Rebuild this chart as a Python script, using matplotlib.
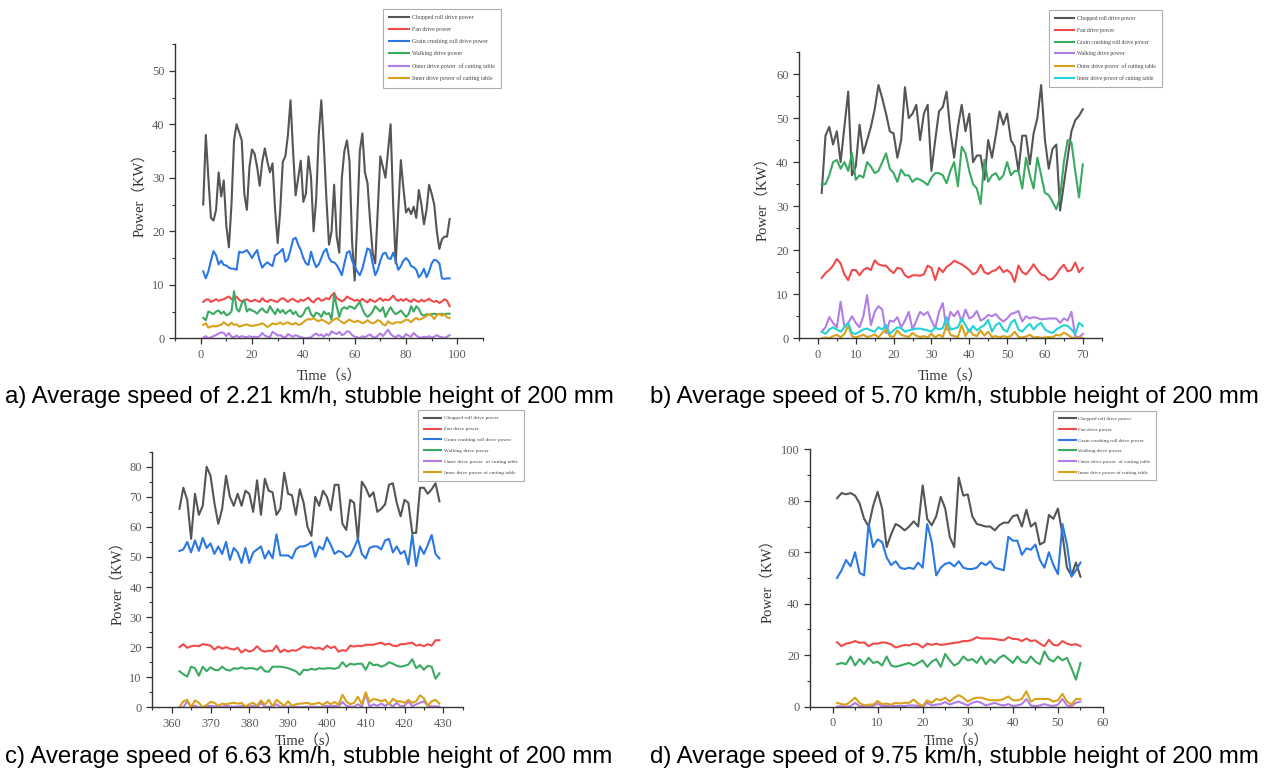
import matplotlib
matplotlib.use("Agg")
import matplotlib.pyplot as plt
from matplotlib.ticker import MultipleLocator

# ---------------- data ----------------
# a) 2.21 km/h
t_a = list(range(1, 98))
chop_a = [25, 38, 30, 22.5, 22, 24, 31, 26.5, 29.5, 21, 17, 25, 37, 40, 38.5, 37, 27, 24, 32, 35.3,
          34.5, 32, 28.5, 33, 35.5, 33, 31, 32.7, 24, 17.8, 24, 33, 34, 38, 44.5, 35, 26.7, 30, 33.2, 25.5,
          27, 34, 30, 20, 26, 38, 44.5, 36, 26, 17.5, 20, 28.7, 19, 16, 30, 35, 37, 33, 18, 10.8,
          22, 35, 38.3, 31, 29, 22, 16, 14, 24, 34, 32, 30, 35, 40, 25, 14, 24, 33.3, 28, 23.5,
          24.3, 23.2, 24.6, 22.5, 27.7, 25, 21.3, 24, 28.7, 27, 25, 20, 16.7, 18.5, 19, 19, 22.3]
fan_a = [6.8, 7.2, 7.3, 6.8, 7.0, 7.3, 7.0, 7.2, 7.3, 7.6, 7.8, 7.3, 7.5, 7.8, 7.2, 6.9, 7.1, 7.3, 7.0, 6.9,
         7.2, 7.0, 6.8, 7.5, 7.0, 6.8, 7.2, 7.1, 6.9, 6.8, 7.3, 7.5, 7.2, 6.8, 7.2, 7.4, 7.0, 6.8, 7.2, 7.0,
         7.3, 7.6, 7.0, 6.7, 7.3, 7.5, 7.0, 7.2, 7.5, 7.3, 8.0, 8.5, 7.5, 7.2, 6.9, 7.2, 7.8, 7.5, 7.3, 7.0,
         7.2, 6.9, 7.4, 7.0, 6.7, 7.3, 7.0, 6.8, 7.2, 7.5, 7.0, 7.3, 7.1, 7.4, 8.0, 7.3, 7.0, 7.3, 7.0, 7.4,
         7.0, 6.8, 7.3, 7.0, 6.8, 7.2, 6.9, 7.1, 7.4, 7.0, 6.8, 7.0, 6.6, 6.9, 7.3, 7.0, 6.0]
grain_a = [12.5, 11.2, 12.5, 14.5, 16.3, 15.5, 13.8, 14.5, 13.7, 13.6, 13.2, 13, 13, 12.8, 16.2, 16, 16.2, 16.5, 15.8, 15,
           15.8, 16.5, 14.5, 13.2, 13.8, 14.2, 13.8, 13.5, 15.5, 15.8, 16.2, 16.7, 14.3, 14.8, 16.5, 18.5, 18.8, 17.5, 16.5, 15,
           14, 13.7, 16.2, 14.5, 13.3, 13.8, 15, 16.2, 16.7, 15, 14.3, 14.2, 13.7, 12.8, 11.8, 14, 16, 16.3, 14.5, 13.5,
           12.5, 11.8, 13, 15, 16.8, 16.5, 14, 11.8, 12.8, 14.5, 15.8, 16, 15, 14.8, 16, 14.5, 12.8, 13.5, 14.5, 15,
           14.5, 13.5, 13.3, 12.8, 11.4, 12, 13, 11.4, 12.5, 14, 14.7, 14.5, 14, 11.2, 11.1, 11.2, 11.2]
walk_a = [3.8, 3.4, 5.0, 4.8, 4.5, 5.0, 5.2, 4.6, 5.0, 4.3, 4.5, 5.0, 8.8, 5.5, 5.0, 6.5, 7.2, 5.0, 5.5, 5.2,
          5.0, 4.6, 5.2, 5.6, 5.0, 4.8, 6.0, 5.2, 4.5, 5.5, 4.8, 5.3, 4.6, 5.0, 5.3, 4.5, 5.0, 4.2, 4.0, 4.5,
          5.5, 5.8, 4.5, 4.0, 4.8, 4.6, 4.0, 5.0, 4.5, 4.7, 3.5, 8.2, 6.0, 4.0, 5.5, 5.8, 5.5, 6.0, 5.8, 5.5,
          6.2, 6.8, 5.5, 4.5, 4.0, 4.4, 5.0, 6.0, 5.5, 5.0, 5.8, 4.0, 5.0, 5.8, 5.0, 4.5, 4.8, 5.2, 4.6, 4.0,
          4.5, 6.0, 5.0, 6.0, 5.5, 4.5, 4.2, 4.5, 4.4, 4.5, 4.6, 4.5, 4.5, 4.6, 4.5, 4.6, 4.6]
outer_a = [0.1, 0.4, 0, 0.2, 0.4, 0.6, 0.9, 1.1, 1.0, 0.4, 1.0, 0.3, 0.2, 0.5, 0.2, 0.4, 0.3, 0.2, 0.4, 0.2,
           0.3, 0.2, 0.4, 1.0, 0.5, 0.3, 0.2, 1.2, 0.9, 0.5, 0.6, 0.3, 0.1, 0.8, 0.5, 0.3, 0.6, 0.4, 0.2, 0.1,
           0.0, 0.1, 0.2, 0.6, 0.9, 0.5, 0.7, 0.3, 0.8, 0.5, 1.3, 1.0, 0.8, 1.2, 0.6, 0.8, 1.3, 1.2, 0.6, 0.3,
           0.2, 0.0, 0.4, 0.2, 0.5, 0.7, 0.3, 0.1, 0.5, 0.9, 0.4, 1.0, 1.6, 0.8, 0.4, 0.2, 0.6, 0.3, 0.1, 0.8,
           0.5, 0.3, 1.0, 0.5, 0.2, 0.1, 0.3, 0.2, 0.4, 0.1, 0.3, 0.6, 0.3, 0.2, 0.1, 0.3, 0.6]
inner_a = [2.5, 2.8, 2.0, 2.2, 2.3, 2.2, 2.4, 2.5, 3.0, 2.6, 2.4, 2.9, 2.5, 2.6, 2.2, 2.3, 2.5, 2.6, 2.4, 2.3,
           2.4, 2.5, 2.6, 2.8, 2.5, 2.1, 2.4, 2.8, 2.6, 2.7, 3.0, 2.6, 2.8, 3.0, 2.7, 2.6, 2.9, 2.5, 2.6, 3.0,
           3.4, 3.6, 3.5, 3.8, 3.4, 3.2, 3.5, 3.3, 3.0, 2.7, 3.2, 3.5, 3.8, 3.4, 3.0, 2.8, 3.2, 3.5, 3.2, 3.0,
           3.3, 3.1, 2.8, 3.0, 3.4, 3.0, 2.8, 3.0, 3.4, 3.2, 2.6, 2.4, 3.2, 2.8, 2.7, 3.0, 3.0, 2.9, 3.2, 3.5,
           3.4, 3.0, 3.5, 3.8, 3.5, 3.6, 3.9, 4.2, 4.5, 4.2, 3.6, 4.3, 4.6, 4.2, 4.5, 3.9, 3.8]

# b) 5.70 km/h
t_b = list(range(1, 71))
chop_b = [33, 46, 48, 44, 47, 40, 48, 56, 37, 39, 48.5, 42, 45, 48, 52, 57.5, 54.5, 51, 47, 46.5,
          41, 45, 57, 50, 51, 53, 45, 51, 53, 38, 45, 51.5, 52.5, 56, 47, 41, 48, 53, 47, 51,
          40, 41.5, 41.5, 36, 45, 41, 46, 51.5, 48.5, 51, 45, 43.5, 38, 46, 46, 39.5, 46.5, 50, 57.5, 45,
          38.5, 43, 44, 29, 35, 41, 47, 49.5, 50.5, 52]
fan_b = [13.7, 14.8, 15.5, 16.5, 18, 17, 14.5, 13.2, 15.5, 15.5, 14.3, 15.5, 16, 15.5, 17.7, 16.8, 16.5, 16.5, 15.5, 14.8,
         16, 15.8, 14.3, 13.8, 14.3, 14.3, 14.2, 14.5, 16.5, 16, 13.2, 16, 15, 16.2, 16.8, 17.6, 17.2, 16.8, 16.2, 15.5,
         14.5, 15, 16.7, 15, 14.6, 15.2, 15.5, 16.3, 15, 15.5, 14.8, 12.8, 16.5, 15, 14.5, 15.5, 16.8, 15.5, 14.5, 14.2,
         13.3, 13.5, 14.5, 15.8, 16.7, 15.2, 15.5, 17.2, 15, 16]
grain_b = [35, 35, 37, 40, 40.5, 38.5, 40, 38, 42, 36, 37, 36.5, 40, 39, 37.5, 38, 40, 42, 38.5, 37.5,
           35.5, 38.3, 37, 37, 35.5, 36.3, 36, 35.5, 34.8, 36.5, 37.5, 37.5, 37, 35.2, 38, 40, 34.5, 43.5, 42, 38,
           35, 34, 30.5, 40.5, 35.5, 37, 37.5, 36, 37, 40, 37, 38, 38, 34, 41, 37, 34, 41, 37, 33,
           32.5, 31, 29.3, 32, 40, 45, 44.5, 38, 32, 39.5]
walk_b = [1.5, 2.5, 4.8, 3.5, 2.5, 8.3, 2.5, 3.5, 5, 3.5, 2.5, 5, 9.8, 3, 6, 7.3, 6.5, 1.2, 4, 3.8,
          4.8, 2.5, 4, 6, 2, 4, 6, 5.3, 6, 4, 2.3, 6, 8, 2, 6, 5, 6.2, 3.8, 6.5, 4.5,
          5, 6.2, 4, 4.5, 5.3, 5, 5.5, 4.5, 3.8, 4.5, 5.5, 5.8, 6.2, 3.8, 5, 4.5, 4.8, 4.6, 4.3, 4.4,
          4.5, 4.5, 4.5, 3.5, 4.5, 4, 6, 0.5, 0.2, 1]
outer_b = [0, 0.2, 0, 0.5, 0.8, 0.2, 1.0, 2.8, 0.5, 0.2, 0.5, 0.8, 0.3, 0.5, 0.9, 0.2, 1.2, 2.0, 0.5, 0.3,
           1.8, 0.8, 0.5, 0.3, 1.2, 0.6, 0.3, 0.5, 0.2, 1.0, 0.2, 0.8, 0.3, 3.0, 0.8, 0.5, 0.3, 3.0, 0.5, 2.0,
           0.8, 0.5, 1.8, 0.6, 1.5, 0.3, 0.5, 0.2, 0.5, 0.3, 0.5, 1.5, 0.3, 0.2, 0.4, 0.8, 0.2, 0.3, 0.1, 0.2,
           0.3, 0.2, 0.8, 0.6, 1.3, 0.8, 0.2, 0, 0.2, 0]
inner_b = [1.5, 1.0, 2.0, 2.5, 2.0, 1.5, 2.5, 3.5, 1.2, 1.0, 1.5, 2.0, 2.2, 1.8, 1.5, 2.5, 2.0, 3.0, 1.0, 1.8,
           2.5, 2.3, 1.5, 1.8, 2.0, 2.2, 2.2, 2.0, 1.8, 1.5, 2.5, 2.0, 2.3, 4.8, 2.0, 2.2, 2.5, 4.5, 3.0, 1.5,
           2.8, 1.8, 2.5, 3.0, 4.2, 1.5, 3.0, 3.5, 2.0, 1.5, 3.5, 4.2, 2.0, 1.5, 2.5, 3.3, 2.0, 3.0, 3.5, 2.0,
           1.5, 1.2, 2.0, 2.5, 3.0, 2.8, 2.0, 1.0, 3.5, 2.8]

# c) 6.63 km/h
t_c = list(range(362, 430))
chop_c = [66, 73, 69, 56, 71, 64, 67, 80, 77, 68, 61, 66, 77, 70, 67, 71, 67, 72, 71, 65,
          75.5, 64, 76, 72, 71.5, 64, 66, 78, 71, 70.5, 64, 72.5, 68, 60, 57, 70, 67, 72, 70, 65.5,
          74, 74, 61, 59, 69, 68, 55.5, 75, 73, 70, 71.5, 65, 66, 67.5, 74, 74.5, 68, 63.5, 69, 68,
          58, 58, 73, 73, 71, 72.5, 74.5, 68.5]
fan_c = [20, 21, 19.8, 20.3, 20.5, 20.3, 21, 20.8, 20.5, 19.2, 20.2, 19.5, 20, 19.5, 19.2, 19.8, 18.2, 19.2, 18.5, 19,
         20.3, 19, 18.5, 18.8, 18.8, 20.5, 18.3, 19.2, 18.5, 19, 18.8, 19.5, 20.3, 19.8, 20, 19.5, 19.8, 19.2, 20.5, 19.7,
         20.2, 18.5, 19, 18.8, 20.5, 20.2, 20.5, 20.3, 20.8, 20.8, 20.8, 21.2, 21.5, 20.8, 21.2, 20.5, 20.3, 21, 21, 21.3,
         21.5, 20.5, 20.8, 20.3, 21, 20.5, 22.3, 22.3]
grain_c = [52, 52.5, 55, 51.5, 55.5, 52, 56.3, 53, 54.5, 51, 53.5, 51, 55, 49, 53, 51.5, 48, 53, 48, 51.5,
           52.5, 53.5, 49.5, 52, 49.5, 57.5, 50.5, 50.5, 50.5, 49.5, 52.5, 53.5, 53.5, 54, 55, 50, 53.5, 52.5, 56.5, 54,
           51, 52, 51.5, 50, 50.5, 53, 56, 51, 49.5, 53, 53.5, 53.5, 52.5, 55.5, 56, 51.5, 53.5, 51, 52, 47.5,
           57.5, 47, 53.5, 51, 54, 57.3, 51, 49.5]
walk_c = [12, 11, 10.2, 13.5, 13, 10.5, 13.5, 12, 13.3, 12.5, 12.3, 13.5, 12.5, 12.2, 13, 12.8, 13.3, 12.8, 13, 13,
          12.5, 13.5, 12, 11.8, 13.5, 13.5, 13.5, 13.3, 13, 12.5, 12, 10.8, 12.5, 12.3, 12.8, 12.5, 13, 12.8, 13, 13,
          12.8, 13.2, 15, 13.5, 14.5, 14.2, 14.5, 14.5, 12.5, 15, 14, 14.2, 13.5, 14, 15, 14.5, 13.8, 13.5, 13.8, 14.2,
          16, 13, 14, 12.5, 13.8, 13.5, 9.5, 11.3]
outer_c = [0, 0, 2, 0.3, 0.5, 0, 0, 0.3, 0.5, 0.3, 0.3, 0.2, 0.5, 0.3, 0.2, 0.2, 0.5, 0.3, 0.2, 0.5,
           0, 1.5, 0.2, 0.2, 0.2, 1.0, 0.2, 0.3, 0.2, 0.2, 0.2, 0.1, 0.1, 0.2, 0.2, 0.2, 0.1, 0.2, 0.5, 0.3,
           0.5, 0.2, 1.8, 0.5, 0.2, 0.2, 1.0, 0.2, 4.5, 0.2, 1.0, 0.5, 1.2, 0.5, 1.2, 0.3, 1.5, 0.3, 0.5, 2.0,
           0.3, 1.0, 1.5, 2.0, 0.5, 0.3, 0.3, 0.2]
inner_c = [0, 2, 2.5, 0, 2.3, 1.5, 0, 0.8, 1.8, 1.5, 0.5, 1.2, 1.0, 1.3, 1.5, 1.2, 1.5, 0.2, 1.0, 1.5,
           0.5, 2.3, 0.8, 2.5, 0.3, 2.5, 1.5, 0.5, 2.0, 0.5, 1.0, 1.2, 1.3, 1.5, 1.0, 1.2, 1.5, 0.8, 1.8, 1.0,
           1.8, 0.8, 4.2, 2.0, 1.0, 1.5, 3.5, 1.0, 5.0, 1.8, 2.8, 2.5, 2.0, 2.5, 1.0, 2.8, 2.0, 2.0, 1.5, 2.5,
           1.5, 2.0, 4.0, 3.0, 0.5, 2.0, 2.5, 1.2]

# d) 9.75 km/h
t_d = list(range(1, 56))
chop_d = [81, 83, 82.5, 83, 82, 79, 73, 70, 78, 83.5, 77, 62, 67, 71, 70, 68.5, 70, 72, 70, 86,
          73, 70.5, 74, 81.5, 77, 66, 62, 89, 82, 82.5, 74, 71, 70.5, 70, 70, 68.5, 70.5, 71.5, 71.5, 74,
          74.5, 70, 76.5, 70, 71.5, 63, 64, 74.5, 73, 77, 67, 54, 51, 56, 50.5]
fan_d = [25, 23.5, 24.5, 24.8, 25.5, 24.8, 25, 23.5, 24.5, 24.5, 25, 24.8, 24.2, 23, 23.5, 24, 23.8, 24.5, 24.2, 23,
         24.5, 24, 24.5, 24, 24.2, 24.5, 24.8, 25, 25.5, 25.5, 26, 27, 26.5, 26.5, 26.5, 26.3, 26, 25.8, 27, 26.3,
         26.3, 25.5, 26.5, 25.5, 25.8, 24.5, 23.5, 26, 24, 23.8, 25.5, 24.5, 24, 24.3, 23.5]
grain_d = [50, 53, 57, 54.5, 60, 52, 51, 71, 62, 65, 64, 58, 55, 56.5, 54, 53.5, 54, 53.5, 56, 54,
           71, 64, 51, 54, 55.5, 56, 54.5, 56.5, 54, 53.5, 53.5, 54, 56, 55, 56.5, 54, 53.5, 53, 66, 64.5,
           64.5, 59, 61.5, 61, 63, 57, 54, 60, 55, 51.5, 71, 63, 50.5, 53, 56]
walk_d = [16.5, 17, 16.5, 19.5, 16, 18.5, 16.5, 19, 17, 17.5, 16, 19.5, 16, 15.5, 16, 16.5, 17, 16, 17, 18,
          15.5, 17.5, 18.5, 15.5, 20.5, 18, 16, 17, 19.5, 18, 18.5, 17, 19.5, 16.5, 18.5, 17, 19, 20, 18.5, 17,
          19.5, 17.5, 17, 19.5, 17.5, 16.5, 21.5, 18.5, 17.5, 19.5, 18, 19, 15, 10.5, 17]
outer_d = [0, 0.2, 0, 0.2, 1.5, 0.2, 0.3, 0, 0.3, 1.2, 0.2, 0.3, 0.2, 0.3, 0.2, 0.3, 0.5, 0.5, 0.3, 0,
           1.5, 0.5, 0.8, 1.0, 1.8, 0.8, 1.5, 2.0, 1.2, 0.5, 1.5, 2.0, 1.5, 0.5, 1.0, 1.5, 0.8, 0.5, 1.0, 0.3,
           0.5, 1.0, 3.0, 0.5, 0.2, 0.5, 1.0, 0.5, 0.3, 0.8, 3.0, 0.5, 0.2, 1.5, 2.0]
inner_d = [1.5, 1, 0.8, 2, 3.5, 1.5, 0.5, 0.8, 0.8, 2.2, 1, 1.2, 0.8, 1.5, 1.2, 1.5, 1.5, 2.8, 1.2, 0.3,
           2.5, 1.5, 3, 2.5, 3.5, 2, 3.5, 4.5, 3.5, 2, 3, 3.5, 3.5, 3, 2.5, 2.5, 2.5, 3, 4, 2.5,
           2.5, 3, 6, 2, 3, 3, 3, 3, 2, 2.5, 5, 2, 0.8, 3, 3]

labels = ['Chopped roll drive power', 'Fan drive power', 'Grain crushing roll drive power',
          'Walking drive power', 'Outer drive power  of cutting table', 'Inner drive power of cutting table']
captions = ['a) Average speed of 2.21 km/h, stubble height of 200 mm',
            'b) Average speed of 5.70 km/h, stubble height of 200 mm',
            'c) Average speed of 6.63 km/h, stubble height of 200 mm',
            'd) Average speed of 9.75 km/h, stubble height of 200 mm']

BLACK, RED, BLUE, GREEN = '#555555', '#f24a4a', '#2a78e4', '#3aaa62'
PURPLE, ORANGE, CYAN = '#b27ee6', '#d9a21c', '#22d2d6'

SERIF = ['Liberation Serif', 'Noto Sans CJK SC']

fig = plt.figure(figsize=(12.72, 7.76), dpi=100)
W, H = 1272, 776


def make_axes(l, r, b, t):
    return fig.add_axes([l / W, 1 - b / H, (r - l) / W, (b - t) / H])


def style(ax, xlim, ylim, xmaj, xmin, ymaj, ymin, ylab_x, xpad):
    ax.set_xlim(*xlim)
    ax.set_ylim(*ylim)
    ax.xaxis.set_major_locator(MultipleLocator(xmaj))
    ax.xaxis.set_minor_locator(MultipleLocator(xmin))
    ax.yaxis.set_major_locator(MultipleLocator(ymaj))
    ax.yaxis.set_minor_locator(MultipleLocator(ymin))
    for s in ['top', 'right']:
        ax.spines[s].set_visible(False)
    for s in ['left', 'bottom']:
        ax.spines[s].set_color('#333333')
        ax.spines[s].set_linewidth(1.0)
    ax.tick_params(which='major', direction='out', length=4, width=0.9, colors='#333333',
                   labelcolor='#5a5a5a', labelsize=9)
    ax.tick_params(which='minor', direction='out', length=2.5, width=0.8, colors='#333333')
    for lab in ax.get_xticklabels() + ax.get_yticklabels():
        lab.set_family(SERIF)
    ax.set_xlabel('Time（s）', family=SERIF, fontsize=10.5, color='#333333', labelpad=xpad)
    ax.set_ylabel('Power（KW）', family=SERIF, fontsize=10.5, color='#333333')
    ax.yaxis.set_label_coords(ylab_x, 0.5)


def legend(ax, handles, x0, y0, fs):
    lg = fig.legend(handles, labels, loc='upper left', bbox_to_anchor=(x0 / W, 1 - y0 / H),
                    prop={'family': SERIF, 'size': fs}, frameon=True, fancybox=False,
                    edgecolor='#9a9a9a', handlelength=3.3, handletextpad=0.5,
                    labelspacing=1.18, borderpad=1.1, borderaxespad=0)
    lg.get_frame().set_linewidth(0.8)
    for txt in lg.get_texts():
        txt.set_color('#444444')


lw = 1.5

# panel a
ax = make_axes(175, 483, 338.3, 44)
h = []
for y, c in zip([chop_a, fan_a, grain_a, walk_a, outer_a, inner_a],
                [BLACK, RED, BLUE, GREEN, PURPLE, ORANGE]):
    h += ax.plot(t_a, y, color=c, lw=lw)
style(ax, (-10, 110), (0, 55), 20, 10, 10, 5, -0.094, 6)
legend(ax, h, 383, 9, 4.2)

# panel b
ax = make_axes(799, 1101.7, 338.3, 52)
h = []
for y, c in zip([chop_b, fan_b, grain_b, walk_b, outer_b, inner_b],
                [BLACK, RED, GREEN, PURPLE, ORANGE, CYAN]):
    h += ax.plot(t_b, y, color=c, lw=lw)
style(ax, (-5, 75), (0, 65), 10, 5, 10, 5, -0.099, 6)
legend(ax, h, 1049, 10, 4.1)

# panel c
ax = make_axes(152.3, 462.7, 707.3, 451.7)
h = []
for y, c in zip([chop_c, fan_c, grain_c, walk_c, outer_c, inner_c],
                [BLACK, RED, BLUE, GREEN, PURPLE, ORANGE]):
    h += ax.plot(t_c, y, color=c, lw=lw)
style(ax, (355, 435), (0, 85), 10, 5, 10, 5, -0.091, 3)
legend(ax, h, 418, 410, 3.8)

# panel d
ax = make_axes(810, 1103, 706.7, 449.3)
h = []
for y, c in zip([chop_d, fan_d, grain_d, walk_d, outer_d, inner_d],
                [BLACK, RED, BLUE, GREEN, PURPLE, ORANGE]):
    h += ax.plot(t_d, y, color=c, lw=lw)
style(ax, (-5, 60), (0, 100), 10, 5, 20, 10, -0.123, 3)
legend(ax, h, 1053, 411, 3.7)

# captions
for (x, y), txt in zip([(5, 397), (650, 397), (5, 757), (650, 757)], captions):
    fig.text(x / W, 1 - y / H, txt, ha='left', va='center', fontsize=17.3,
             family='Liberation Sans', color='#000000')

fig.savefig('out.png', dpi=100, facecolor='white')
